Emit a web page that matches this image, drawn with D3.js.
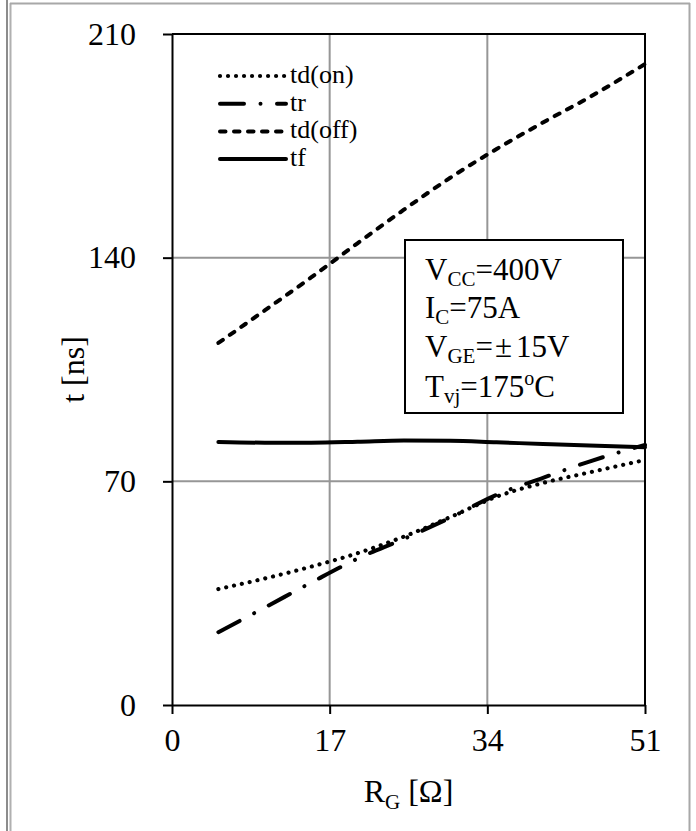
<!DOCTYPE html>
<html>
<head>
<meta charset="utf-8">
<script src="https://cdn.jsdelivr.net/npm/d3@7"></script>
<style>
  body { margin: 0; background: #fff; }
  svg { display: block; }
</style>
</head>
<body>
<div class="canvas"></div>
<script>
// Gate resistance values (x axis, ohm)
const rg = [5, 10, 15, 20, 25, 30, 35, 40, 45, 51];

// Switching times, in ns
const tdOn  = [36.3, 39.6, 43.3, 47.5, 52.7, 58.8, 65.2, 69.5, 72.8, 76.7];
const tr    = [22.8, 30.5, 38.3, 45.8, 52.0, 58.6, 65.8, 71.1, 76.2, 81.4];
const tdOff = [113.3, 123.5, 133.8, 144.5, 155.0, 165.0, 174.0, 182.3, 190.2, 200.6];
const tf    = [82.3, 82.1, 82.1, 82.4, 82.8, 82.7, 82.2, 81.7, 81.2, 80.7];

// Series names in legend order
const seriesNames = ['td(on)', 'tr', 'td(off)', 'tf'];
const seriesValues = [tdOn, tr, tdOff, tf];

// Tick labels
const xTicks = [0, 17, 34, 51];
const yTicks = [0, 70, 140, 210];

// Variables for d3
const svgWidth = 696;
const svgHeight = 831;
const margins = {left: 172, top: 34, right: 51, bottom: 126};
const font = '"Liberation Serif", "Times New Roman", serif';

// line styles for each series (dash pattern, width)
const lineStyles = [
  {dash: '0.01,8', width: 4.2},
  {dash: '24,16.5,0.01,16.5', width: 4},
  {dash: '5.5,8.5', width: 4},
  {dash: null, width: 4}
];

let xScale, yScale, svg;

// Method: createScales()
function createScales() {
  xScale = d3.scaleLinear().domain([0, 51])
    .range([margins.left, svgWidth - margins.right]);
  yScale = d3.scaleLinear().domain([0, 210])
    .range([svgHeight - margins.bottom, margins.top]);
}

// Method: drawFrame()
function drawFrame() {
  // outer page frame lines (gray)
  svg.append('line').attr('x1', 7).attr('x2', 7).attr('y1', 0).attr('y2', svgHeight)
    .attr('stroke', '#8c8c8c').attr('stroke-width', 2);
  svg.append('line').attr('x1', 10.5).attr('x2', 10.5).attr('y1', 3).attr('y2', svgHeight)
    .attr('stroke', '#b0b0b0').attr('stroke-width', 2);
  svg.append('line').attr('x1', 10).attr('x2', 690).attr('y1', 3.5).attr('y2', 3.5)
    .attr('stroke', '#a8a8a8').attr('stroke-width', 2);
  svg.append('line').attr('x1', 689.5).attr('x2', 689.5).attr('y1', 3).attr('y2', svgHeight)
    .attr('stroke', '#a8a8a8').attr('stroke-width', 2);
}

// Method: drawGrid()
function drawGrid() {
  const [x0, x1] = xScale.range();
  const [y0, y1] = yScale.range();

  svg.append('g').selectAll('line')
    .data(xTicks.slice(1, -1))
    .enter().append('line')
    .attr('x1', d => xScale(d)).attr('x2', d => xScale(d))
    .attr('y1', y0).attr('y2', y1)
    .attr('stroke', '#969696').attr('stroke-width', 2);

  svg.append('g').selectAll('line')
    .data(yTicks.slice(1, -1))
    .enter().append('line')
    .attr('x1', x0).attr('x2', x1)
    .attr('y1', d => yScale(d)).attr('y2', d => yScale(d))
    .attr('stroke', '#969696').attr('stroke-width', 2);

  // plot frame on top and right
  svg.append('path')
    .attr('d', `M${x0},${y1}H${x1}V${y0}`)
    .attr('fill', 'none').attr('stroke', '#000').attr('stroke-width', 2);
}

// Method: drawAxes()
function drawAxes() {
  const xAx = d3.axisBottom(xScale).tickValues(xTicks).tickSize(9).tickSizeOuter(0);
  const yAx = d3.axisLeft(yScale).tickValues(yTicks).tickSize(9).tickSizeOuter(0).tickPadding(27);

  const gx = svg.append('g')
    .attr('class', 'x_axis')
    .attr('transform', `translate(0,${yScale(0)})`)
    .call(xAx);
  gx.selectAll('text').attr('dy', null).attr('y', 46);

  svg.append('g')
    .attr('class', 'y_axis')
    .attr('transform', `translate(${xScale(0)},0)`)
    .call(yAx);

  svg.selectAll('.x_axis, .y_axis')
    .attr('font-family', font).attr('font-size', 32);
  svg.selectAll('.x_axis path, .y_axis path, .x_axis line, .y_axis line')
    .attr('stroke', '#000').attr('stroke-width', 2);
  svg.selectAll('.x_axis text, .y_axis text').attr('fill', '#000');

  // x-axis title
  const xt = svg.append('text')
    .attr('x', (xScale(0) + xScale(51)) / 2)
    .attr('y', 802)
    .attr('text-anchor', 'middle')
    .attr('font-family', font).attr('font-size', 32);
  xt.append('tspan').text('R');
  xt.append('tspan').attr('font-size', 21).attr('dy', 7).text('G');
  xt.append('tspan').attr('dy', -7).text(' [Ω]');

  // y-axis title
  svg.append('text')
    .attr('transform', `translate(84,${(yScale(0) + yScale(210)) / 2})rotate(-90)`)
    .attr('text-anchor', 'middle')
    .attr('font-family', font).attr('font-size', 32)
    .text('t [ns]');
}

// Method: drawData()
function drawData() {
  const line = d3.line()
    .x(d => xScale(d[0]))
    .y(d => yScale(d[1]))
    .curve(d3.curveMonotoneX);

  seriesValues.forEach((vals, i) => {
    svg.append('path')
      .datum(rg.map((r, j) => [r, vals[j]]))
      .attr('d', line)
      .attr('fill', 'none')
      .attr('stroke', '#000')
      .attr('stroke-width', lineStyles[i].width)
      .attr('stroke-linecap', 'round')
      .attr('stroke-dasharray', lineStyles[i].dash);
  });
}

// Method: drawLegend()
function drawLegend() {
  const leg = svg.append('g').attr('font-family', font).attr('font-size', 26);
  seriesNames.forEach((name, i) => {
    const y = 76 + i * 27.7;
    leg.append('line')
      .attr('x1', 220).attr('x2', 286).attr('y1', y).attr('y2', y)
      .attr('stroke', '#000')
      .attr('stroke-width', lineStyles[i].width)
      .attr('stroke-linecap', 'round')
      .attr('stroke-dasharray', lineStyles[i].dash);
    leg.append('text').attr('x', 290).attr('y', y + 7).text(name);
  });
}

// Method: drawNote()
function drawNote() {
  const g = svg.append('g').attr('font-family', font).attr('font-size', 31);
  g.append('rect')
    .attr('x', 405).attr('y', 240).attr('width', 218).attr('height', 173)
    .attr('fill', '#fff').attr('stroke', '#000').attr('stroke-width', 2);

  const t1 = g.append('text').attr('x', 425).attr('y', 280);
  t1.append('tspan').text('V');
  t1.append('tspan').attr('font-size', 21).attr('dy', 6).text('CC');
  t1.append('tspan').attr('dy', -6).text('=400V');

  const t2 = g.append('text').attr('x', 425).attr('y', 318);
  t2.append('tspan').text('I');
  t2.append('tspan').attr('font-size', 21).attr('dy', 6).text('C');
  t2.append('tspan').attr('dy', -6).text('=75A');

  const t3 = g.append('text').attr('x', 425).attr('y', 357);
  t3.append('tspan').text('V');
  t3.append('tspan').attr('font-size', 21).attr('dy', 6).text('GE');
  t3.append('tspan').attr('dy', -6).text('=');
  t3.append('tspan').attr('dx', 2).text('±');
  t3.append('tspan').attr('dx', 4).text('15V');

  const t4 = g.append('text').attr('x', 425).attr('y', 397);
  t4.append('tspan').text('T');
  t4.append('tspan').attr('font-size', 21).attr('dy', 6).text('vj');
  t4.append('tspan').attr('dy', -6).text('=175');
  t4.append('tspan').attr('font-size', 20).attr('dy', -12).text('o');
  t4.append('tspan').attr('dy', 12).text('C');
}

// Method: drawCanvas()
function drawCanvas() {
  svg = d3.select('.canvas').append('svg')
    .attr('width', svgWidth)
    .attr('height', svgHeight)
    .style('background-color', 'white');

  createScales();
  drawFrame();
  drawGrid();
  drawAxes();
  drawNote();
  drawData();
  drawLegend();
}

drawCanvas();
</script>
</body>
</html>
